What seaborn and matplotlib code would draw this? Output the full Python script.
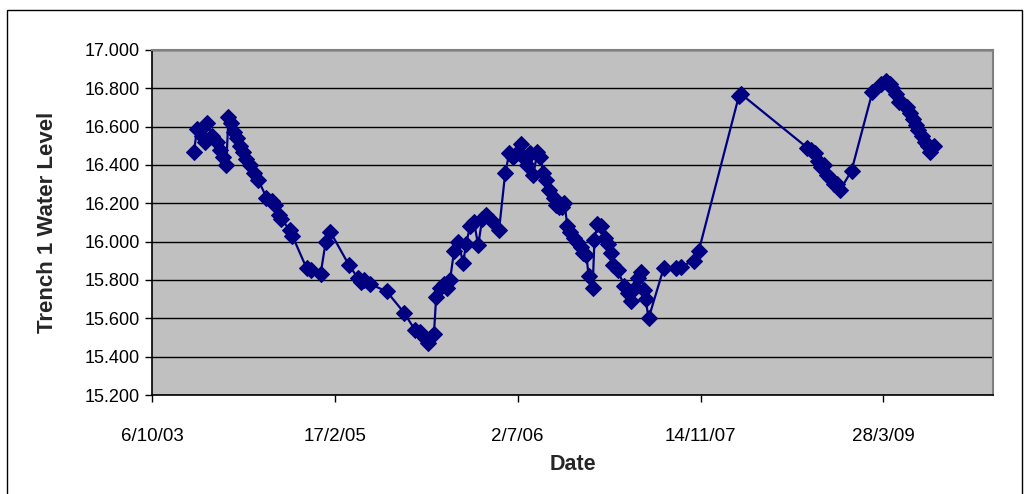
import matplotlib
matplotlib.use("Agg")
import matplotlib.pyplot as plt
import matplotlib.dates as mdates
from matplotlib.ticker import FuncFormatter, FixedLocator
from matplotlib.patches import Rectangle
import seaborn as sns
import pandas as pd
import numpy as np

# Days after 6/10/03 for each reading
day_offsets = [115, 123, 137, 145, 151, 165, 178, 187, 195, 203,
               209, 217, 225, 233, 241, 250, 258, 269, 280, 291,
               313, 327, 335, 346, 354, 376, 384, 423, 434, 461,
               475, 488, 538, 563, 571, 579, 595, 642, 689, 719,
               733, 746, 755, 771, 777, 788, 799, 807, 815, 826,
               837, 851, 859, 870, 881, 892, 903, 914, 930, 949,
               966, 977, 988, 1002, 1010, 1021, 1026, 1035, 1043, 1054,
               1062, 1070, 1078, 1087, 1098, 1106, 1114, 1122, 1128, 1136,
               1144, 1155, 1163, 1172, 1180, 1188, 1194, 1205, 1210, 1218,
               1229, 1238, 1246, 1254, 1262, 1273, 1292, 1301, 1309, 1320,
               1328, 1336, 1345, 1350, 1358, 1399, 1432, 1446, 1482, 1495,
               1605, 1611, 1792, 1803, 1814, 1822, 1830, 1838, 1847, 1855,
               1866, 1874, 1882, 1913, 1970, 1995, 2006, 2017, 2025, 2036,
               2044, 2053, 2064, 2072, 2080, 2088, 2096, 2105, 2113, 2121,
               2127, 2138]

water_level = [16.47, 16.59, 16.55, 16.52, 16.62, 16.55, 16.52, 16.48, 16.44, 16.40,
               16.65, 16.62, 16.57, 16.54, 16.50, 16.47, 16.43, 16.40, 16.36, 16.32,
               16.23, 16.21, 16.19, 16.14, 16.12, 16.06, 16.03, 15.86, 15.85, 15.83,
               16.00, 16.05, 15.88, 15.81, 15.79, 15.80, 15.78, 15.74, 15.63, 15.54,
               15.53, 15.50, 15.47, 15.52, 15.71, 15.76, 15.78, 15.76, 15.80, 15.95,
               16.00, 15.89, 15.99, 16.08, 16.10, 15.98, 16.12, 16.14, 16.11, 16.06,
               16.36, 16.46, 16.44, 16.47, 16.51, 16.43, 16.40, 16.46, 16.35, 16.47,
               16.44, 16.36, 16.32, 16.27, 16.23, 16.19, 16.18, 16.18, 16.20, 16.08,
               16.05, 16.02, 16.00, 15.97, 15.94, 15.93, 15.82, 15.76, 16.01, 16.09,
               16.08, 16.02, 15.99, 15.94, 15.88, 15.85, 15.77, 15.73, 15.69, 15.76,
               15.81, 15.84, 15.75, 15.70, 15.60, 15.86, 15.86, 15.87, 15.90, 15.95,
               16.76, 16.77, 16.49, 16.48, 16.46, 16.42, 16.39, 16.40, 16.35, 16.33,
               16.30, 16.30, 16.27, 16.37, 16.78, 16.82, 16.84, 16.82, 16.80, 16.77,
               16.73, 16.72, 16.70, 16.67, 16.64, 16.61, 16.58, 16.55, 16.52, 16.50,
               16.47, 16.50]

start_date = pd.Timestamp("2003-10-06")
tick_dates = ["2003-10-06", "2005-02-17", "2006-07-02", "2007-11-14", "2009-03-28"]
y_ticks = [15.2, 15.4, 15.6, 15.8, 16.0, 16.2, 16.4, 16.6, 16.8, 17.0]

df = pd.DataFrame({
    "Date": start_date + pd.to_timedelta(day_offsets, unit="D"),
    "Level": water_level,
})

sns.set_style("white")
plt.rcParams["font.family"] = ["Liberation Sans", "DejaVu Sans"]

fig = plt.figure(figsize=(10.3, 4.94), dpi=100)
ax = fig.add_axes([0.1476, 0.2004, 0.8165, 0.6984])
ax.set_facecolor("#C0C0C0")

sns.lineplot(data=df, x="Date", y="Level", ax=ax, sort=False, estimator=None,
             color="#000080", linewidth=1.6, marker="D", markersize=8.5,
             markeredgecolor="#000080", markerfacecolor="#000080")

ax.set_xlim(start_date, start_date + pd.Timedelta(days=2300))
ax.set_ylim(15.2, 17.0)
ax.xaxis.set_major_locator(FixedLocator([mdates.date2num(pd.Timestamp(d)) for d in tick_dates]))
ax.xaxis.set_major_formatter(FuncFormatter(
    lambda v, p: (lambda d: f"{d.day}/{d.month}/{d.year % 100:02d}")(mdates.num2date(v))))
ax.set_yticks(y_ticks)
ax.yaxis.set_major_formatter(FuncFormatter(lambda v, p: f"{v:.3f}"))

ax.grid(axis="y", color="black", linewidth=1.0)
ax.set_axisbelow(True)
ax.tick_params(axis="both", direction="out", length=5, width=1, colors="black",
               labelsize=13, pad=4, left=True, bottom=True)
ax.tick_params(axis="x", pad=19, labelsize=13.5)

for side in ["left", "bottom"]:
    ax.spines[side].set_color("black")
    ax.spines[side].set_linewidth(1.2)
for side in ["top", "right"]:
    ax.spines[side].set_color("#808080")
    ax.spines[side].set_linewidth(1.5)

ax.set_xlabel("Date", fontsize=15.5, fontweight="bold")
ax.set_ylabel("Trench 1 Water Level", fontsize=16, fontweight="bold")
ax.xaxis.set_label_coords(0.5, -0.17)
ax.yaxis.set_label_coords(-0.112, 0.5)

fig.patches.append(Rectangle((7 / 1030, -0.05), 1015 / 1030, 1.05 - 10 / 494,
                             transform=fig.transFigure, fill=False,
                             edgecolor="black", linewidth=1.0))

fig.savefig("out.png", dpi=100)
